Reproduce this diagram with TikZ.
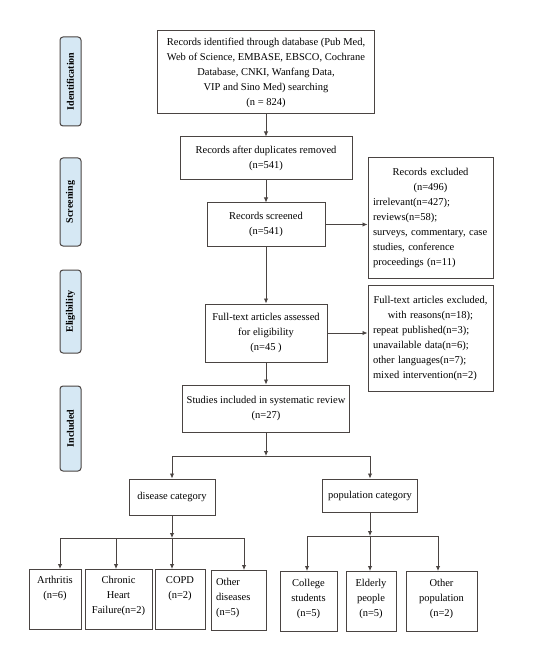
\documentclass[tikz,border=0pt]{standalone}
\usepackage{fontspec}
\setmainfont{Liberation Serif}
\usetikzlibrary{arrows.meta,calc}
\definecolor{linec}{HTML}{4A4442}
\definecolor{stagefill}{HTML}{D6E8F4}
\begin{document}
\begin{tikzpicture}[x=1pt,y=-1pt,
  every node/.style={font=\fontsize{10.5}{15}\selectfont, text=black},
  box/.style={draw=linec, line width=1pt, align=center, inner sep=2pt},
  boxl/.style={draw=linec, line width=1pt, inner xsep=5pt, inner ysep=2pt},
  leaf/.style={draw=linec, line width=1pt, anchor=north, inner sep=1pt, minimum height=60pt},
  stage/.style={draw=linec, line width=1pt, fill=stagefill, rounded corners=3pt, rotate=90, minimum height=21pt, inner sep=1pt, font=\fontsize{10}{12}\selectfont\bfseries},
  arr/.style={draw=linec, line width=0.9pt, -{Latex[length=5pt,width=4.5pt]}}
]
\useasboundingbox (0,0) rectangle (551,660);
\fill[white] (0,0) rectangle (551,660);

% stage labels
\node[stage, minimum width=89pt] (sid) at (70.5,81.5) {Identification};
\node[stage, minimum width=88pt] (ssc) at (70.5,202) {Screening};
\node[stage, minimum width=83pt] (sel) at (70.5,311.5) {Eligibility};
\node[stage, minimum width=85pt] (sin) at (70.5,428.5) {Included};

% main column
\node[box, minimum width=217pt, minimum height=83pt] (id) at (266,72.5)
  {Records identified through database (Pub Med,\\Web of Science, EMBASE, EBSCO, Cochrane\\Database, CNKI, Wanfang Data,\\VIP and Sino Med) searching\\(n = 824)};
\node[box, minimum width=172pt, minimum height=43pt] (dup) at (266,158.5)
  {Records after duplicates removed\\(n=541)};
\node[box, minimum width=118pt, minimum height=43pt] (scr) at (266,224.5)
  {Records screened\\(n=541)};
\node[box, minimum width=122pt, minimum height=58pt] (ft) at (266,333)
  {Full-text articles assessed\\for eligibility\\(n=45 )};
\node[box, minimum width=167pt, minimum height=47pt] (st) at (266,408.5)
  {Studies included in systematic review\\(n=27)};

% exclusion boxes
\node[boxl, text width=115pt, minimum height=120pt] (exc) at (430.5,218)
  {{\centering Records excluded\\(n=496)\par}\raggedright irrelevant(n=427);\\reviews(n=58);\\surveys, commentary, case\\studies, conference\\proceedings (n=11)};
\node[boxl, text width=115pt, minimum height=106pt] (fte) at (430.5,338)
  {{\centering Full-text articles excluded,\\with reasons(n=18);\par}\raggedright repeat published(n=3);\\unavailable data(n=6);\\other languages(n=7);\\mixed intervention(n=2)};

% categories
\node[box, minimum width=86pt, minimum height=36pt] (dis) at (172,497) {disease category};
\node[box, minimum width=95pt, minimum height=33pt] (pop) at (370,495.5) {population category};

% leaves
\node[leaf, minimum width=52pt] (arth) at (55,569)
  {\parbox[c][46pt][t]{50pt}{\centering Arthritis\\(n=6)}};
\node[leaf, minimum width=67pt] (chf) at (118.5,569)
  {\parbox[c][46pt][t]{64pt}{\centering Chronic\\Heart\\Failure(n=2)}};
\node[leaf, minimum width=50pt] (copd) at (180,569)
  {\parbox[c][46pt][t]{46pt}{\centering COPD\\(n=2)}};
\node[leaf, minimum width=55pt] (oth) at (238.5,570)
  {\parbox[c][44pt][t]{45pt}{\raggedright Other\\diseases\\(n=5)}};
\node[leaf, minimum width=57pt] (col) at (308.5,571)
  {\parbox[c][44pt][t]{53pt}{\centering College\\students\\(n=5)}};
\node[leaf, minimum width=50pt] (eld) at (371,571)
  {\parbox[c][44pt][t]{46pt}{\centering Elderly\\people\\(n=5)}};
\node[leaf, minimum width=71pt] (othp) at (441.5,571)
  {\parbox[c][44pt][t]{67pt}{\centering Other\\population\\(n=2)}};

% connectors
\draw[arr] (id) -- (dup);
\draw[arr] (dup) -- (scr);
\draw[arr] (scr) -- (ft);
\draw[arr] (ft) -- (st);
\draw[arr] (scr.east) -- (scr.east -| exc.west);
\draw[arr] (ft.east) -- (ft.east -| fte.west);

\coordinate (j1) at (266,456);
\draw[arr] (st) -- (j1);
\draw[arr] (j1) -| (dis.north);
\draw[arr] (j1) -| (pop.north);

\coordinate (j2) at (172,538);
\draw[arr] (dis) -- (j2);
\draw[arr] (j2) -| ([xshift=5pt]arth.north);
\draw[arr] (j2) -| ([xshift=-2.5pt]chf.north);
\draw[arr] (j2) -- (j2 |- copd.north);
\draw[arr] (j2) -| ([xshift=5.5pt]oth.north);

\coordinate (j3) at (370,536);
\draw[arr] (pop) -- (j3);
\draw[arr] (j3) -| ([xshift=-1.5pt]col.north);
\draw[arr] (j3) -- (j3 |- eld.north);
\draw[arr] (j3) -| ([xshift=-3.5pt]othp.north);
\end{tikzpicture}
\end{document}
